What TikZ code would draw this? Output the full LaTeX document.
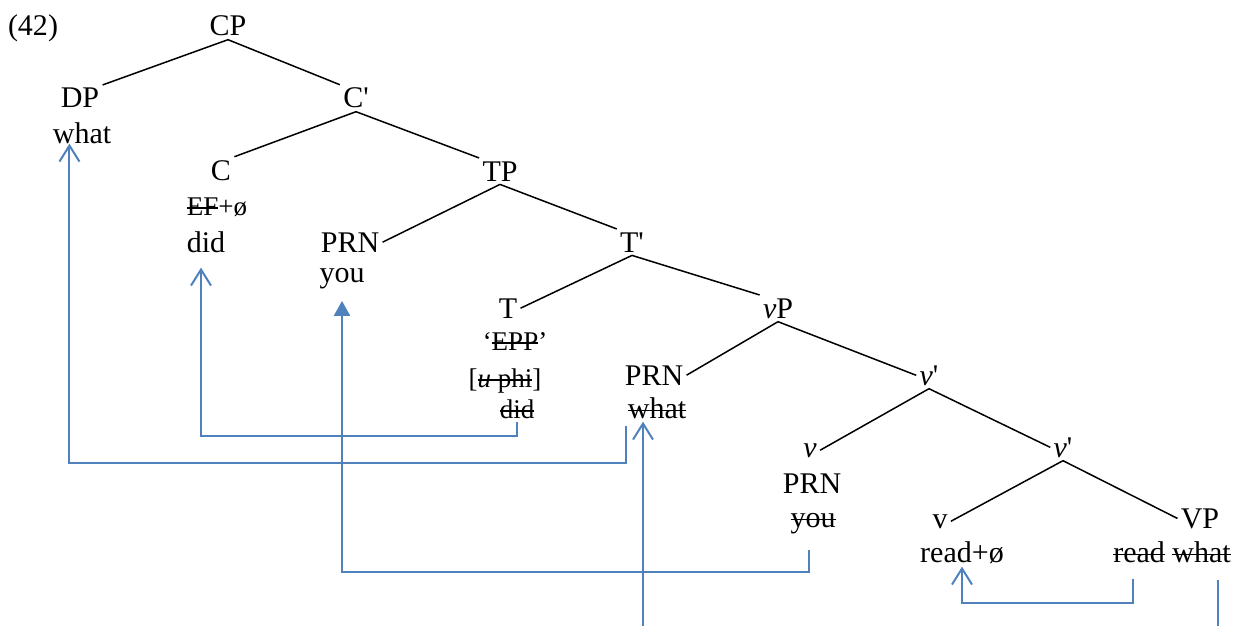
\documentclass[tikz,border=0pt]{standalone}
\usepackage{fontspec}
\setmainfont{Liberation Serif}
\usetikzlibrary{arrows.meta}
\definecolor{mvblue}{RGB}{79,129,189}
\tikzset{
  lab/.style={inner sep=1.5pt, anchor=base, font=\fontsize{15}{18}\selectfont},
  sml/.style={lab, font=\fontsize{13.5}{16}\selectfont},
  branch/.style={line width=0.75pt},
  mv/.style={draw=mvblue, line width=1pt, -{Straight Barb[length=8pt,width=10pt]}},
  mvfill/.style={mv, -{Triangle[length=7.5pt,width=8pt]}},
}
\newcommand{\pr}{\textquotesingle}
\newsavebox{\strkbox}
\newcommand{\strk}[1]{\sbox{\strkbox}{#1}\rlap{\rule[0.5ex]{\wd\strkbox}{0.7pt}}\usebox{\strkbox}}
\begin{document}
\begin{tikzpicture}[x=0.5pt, y=-0.5pt]
            \useasboundingbox (0,0) rectangle (1242,626);
            % Nodi
            \node[lab] (ex) at (33,36) {(42)};
            \node[lab] (cp) at (228,36) {CP};
            \node[lab] (dp) at (80,108) {DP};
            \node[lab] (dpwhat) at (82,144) {what};
            \node[lab] (cbar) at (356,108) {C\pr};
            \node[lab] (c) at (221,180) {C};
            \node[sml] (cef) at (217,215) {\strk{EF}+ø};
            \node[lab] (cdid) at (206,252) {did};
            \node[lab] (tp) at (500,181) {TP};
            \node[lab] (prn) at (350,252) {PRN};
            \node[lab] (prnyou) at (342,282) {you};
            \node[lab] (tbar) at (632,252) {T\pr};
            \node[lab] (t) at (508,318) {T};
            \node[sml] (tepp) at (515,350) {‘\strk{EPP}’};
            \node[sml] (tphi) at (505,387) {[\strk{\textit{u} phi}]};
            \node[sml] (tdid) at (517,418) {\strk{did}};
            \node[lab] (vp) at (778,318) {\textit{v}P};
            \node[lab] (vprn) at (654,385) {PRN};
            \node[lab] (vwhat) at (657,418) {\strk{what}};
            \node[lab] (vbar) at (929,385) {\textit{v}\pr};
            \node[lab] (vsm) at (810,457) {\textit{v}};
            \node[lab] (vsprn) at (812,493) {PRN};
            \node[lab] (vsyou) at (813,527) {\strk{you}};
            \node[lab] (vbarb) at (1063,457) {\textit{v}\pr};
            \node[lab] (vhead) at (940,528) {v};
            \node[lab] (readphi) at (962,562) {read+ø};
            \node[lab] (vpn) at (1200,528) {VP};
            \node[lab] (vpread) at (1172,562) {\strk{read} \strk{what}};
            % Rami
            \draw[branch] (cp.south) -- (dp.north east);
            \draw[branch] (cp.south) -- (cbar.north west);
            \draw[branch] (cbar.south) -- (c.north east);
            \draw[branch] (cbar.south) -- (tp.north west);
            \draw[branch] (tp.south) -- (prn.east);
            \draw[branch] (tp.south) -- (tbar.north west);
            \draw[branch] (tbar.south) -- (t.east);
            \draw[branch] (tbar.south) -- (vp.north west);
            \draw[branch] (vp.south) -- (vprn.east);
            \draw[branch] (vp.south) -- (vbar.west);
            \draw[branch] (vbar.south) -- (vsm.east);
            \draw[branch] (vbar.south) -- (vbarb.west);
            \draw[branch] (vbarb.south) -- (vhead.east);
            \draw[branch] (vbarb.south) -- (vpn.west);
            % Frecce
            \coordinate (bot) at (643,626);
            \coordinate (botr) at (1218,626);
            \draw[mv] ([shift={(2,4)}]vwhat.south west) -- ++(0,37) -| ([shift={(20,-4)}]dpwhat.south west);
            \draw[mv] (tdid.south) -- ++(0,14) -| ([shift={(-5,12)}]cdid.south);
            \draw[mvfill] ([shift={(-4,13)}]vsyou.south) -- ++(0,22) -| ([shift={(0,9)}]prnyou.south);
            \draw[mv] (bot) -- (bot |- vwhat.south);
            \draw[mv,-] (botr |- vpread.south) ++(0,14) -- (botr);
            \draw[mv] ([shift={(23,13)}]vpread.south west) -- ++(0,24) -| (readphi.south);
\end{tikzpicture}
\end{document}
